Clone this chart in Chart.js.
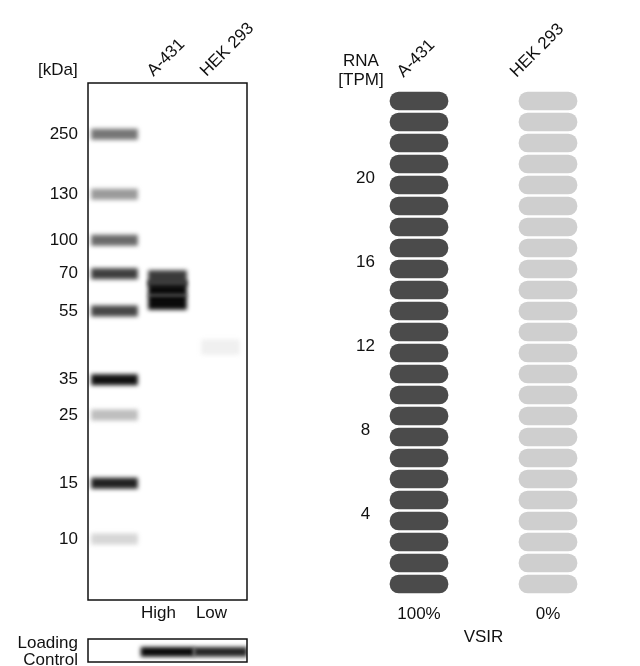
<!DOCTYPE html>
<html>
<head>
<meta charset="utf-8">
<script src="https://cdn.jsdelivr.net/npm/chart.js@4.4.1/dist/chart.umd.min.js"></script>
<style>
  html, body { margin: 0; padding: 0; background: #fff; }
  #wrap { position: relative; width: 640px; height: 666px; overflow: hidden; font-family: "Liberation Sans", Arial, sans-serif; }
  canvas { position: absolute; left: 0; top: 0; }
  .lbl { position: absolute; font-size: 17px; color: #111; white-space: nowrap; line-height: 1; }
</style>
</head>
<body>
<div id="wrap">
  <canvas id="blot" width="640" height="666"></canvas>
  <canvas id="loading" width="640" height="666"></canvas>
  <canvas id="rna" width="640" height="666"></canvas>
  <div class="lbl" style="left:38px; top:61px;">[kDa]</div>
  <div class="lbl" style="left:331px; top:51px; width:60px; text-align:center; line-height:19px;">RNA<br>[TPM]</div>
</div>
<script>
// Western blot lanes
const lanes = ["Ladder", "A-431", "HEK 293"];
const laneLevels = ["", "High", "Low"];

// Marker ladder (kDa) and relative migration from the top of the gel
const markerKda = [250, 130, 100, 70, 55, 35, 25, 15, 10];
const markerRf = [0.099, 0.215, 0.304, 0.369, 0.441, 0.574, 0.642, 0.774, 0.882];
const markerSignal = [0.55, 0.4, 0.6, 0.78, 0.75, 0.97, 0.25, 0.9, 0.15];

// Sample bands
const sampleLane = ["A-431", "A-431", "A-431", "HEK 293"];
const sampleRf = [0.377, 0.397, 0.424, 0.511];
const sampleSignal = [0.8, 1, 1, 0.04];

// Loading control (signal per lane)
const loadingSignal = [0, 1, 0.88];
const loadingRf = 0.56;

// RNA expression
const rnaCells = ["A-431", "HEK 293"];
const rnaTpm = [24, 0];
const rnaShare = ["100%", "0%"];
const tpmTicks = [4, 8, 12, 16, 20];
const tpmMax = 24;
const geneName = "VSIR";

const family = "'Liberation Sans', Arial, sans-serif";
const ink = "#111";
const font = { family: family, size: 17 };

function gray(s) {
  const c = Math.round(250 - 240 * s);
  return "rgb(" + c + "," + c + "," + c + ")";
}

// draws the frame round the membrane
const frame = {
  id: "frame",
  afterDraw(chart) {
    const { ctx, chartArea: a } = chart;
    ctx.save();
    ctx.strokeStyle = "#111";
    ctx.lineWidth = 1.5;
    ctx.strokeRect(a.left, a.top, a.right - a.left, a.bottom - a.top);
    ctx.restore();
  }
};

// soft edges for the bands
const blurBands = {
  id: "blurBands",
  beforeDatasetsDraw(chart) {
    chart.ctx.save();
    chart.ctx.filter = "blur(2.2px)";
  },
  afterDatasetsDraw(chart) {
    chart.ctx.restore();
  }
};

function laneData(laneName, range) {
  return lanes.map((l) => (l === laneName ? range : null));
}

const blotDatasets = [];
markerRf.forEach((rf, i) => {
  blotDatasets.push({
    data: laneData("Ladder", [rf - 0.01, rf + 0.01]),
    backgroundColor: gray(markerSignal[i]),
    barThickness: 46,
    grouped: false
  });
});
sampleRf.forEach((rf, i) => {
  blotDatasets.push({
    data: laneData(sampleLane[i], [rf - 0.014, rf + 0.014]),
    backgroundColor: gray(sampleSignal[i]),
    barThickness: 38,
    grouped: false
  });
});

new Chart(document.getElementById("blot"), {
  type: "bar",
  data: { labels: lanes, datasets: blotDatasets },
  options: {
    responsive: false,
    animation: false,
    layout: { padding: { left: 0, right: 393, top: 0, bottom: 0 } },
    plugins: { legend: { display: false }, tooltip: { enabled: false } },
    scales: {
      x: {
        type: "category",
        position: "bottom",
        grid: { display: false, drawTicks: false },
        border: { display: false },
        ticks: { callback: (v, i) => laneLevels[i], padding: 3, labelOffset: -9, color: ink, font: font, maxRotation: 0, autoSkip: false },
        afterFit: (s) => { s.height = 66; }
      },
      xTop: {
        type: "category",
        position: "top",
        labels: lanes.map((l, i) => (i === 0 ? "" : l)),
        grid: { display: false, drawTicks: false },
        border: { display: false },
        ticks: { minRotation: 45, maxRotation: 45, labelOffset: -3, padding: 2, color: ink, font: font, autoSkip: false },
        afterFit: (s) => { s.height = 83; }
      },
      y: {
        type: "linear",
        reverse: true,
        min: 0,
        max: 1,
        afterBuildTicks: (s) => { s.ticks = markerRf.map((v) => ({ value: v })); },
        grid: { display: false, drawTicks: false },
        border: { display: false },
        ticks: { callback: (v) => markerKda[markerRf.indexOf(v)], padding: 10, color: ink, font: font, autoSkip: false },
        afterFit: (s) => { s.width = 88; }
      }
    }
  },
  plugins: [blurBands, frame]
});

// Loading control strip
new Chart(document.getElementById("loading"), {
  type: "bar",
  data: {
    labels: lanes,
    datasets: [{
      data: loadingSignal.map((s) => (s > 0 ? [loadingRf - 0.2, loadingRf + 0.2] : null)),
      backgroundColor: loadingSignal.map(gray),
      barThickness: 53,
      grouped: false
    }]
  },
  options: {
    responsive: false,
    animation: false,
    layout: { padding: { left: 0, right: 393, top: 639, bottom: 4 } },
    plugins: { legend: { display: false }, tooltip: { enabled: false } },
    scales: {
      x: { display: false },
      y: {
        type: "linear",
        reverse: true,
        min: 0,
        max: 1,
        afterBuildTicks: (s) => { s.ticks = [{ value: 0.5 }]; },
        grid: { display: false, drawTicks: false },
        border: { display: false },
        ticks: { callback: () => ["Loading", "Control"], padding: 10, labelOffset: 1, color: ink, font: { family: family, size: 17, lineHeight: 0.98 } },
        afterFit: (s) => { s.width = 88; s.paddingTop = 0; s.paddingBottom = 0; }
      }
    }
  },
  plugins: [blurBands, frame]
});

// RNA pill chart
const dark = "#4b4b4b";
const light = "#cfcfcf";
const pillDatasets = [];
for (let level = 1; level <= tpmMax; level++) {
  pillDatasets.push({
    data: rnaCells.map(() => [level - 1, level]),
    backgroundColor: rnaTpm.map((v) => (v >= level ? dark : light)),
    borderColor: "#fff",
    borderWidth: 1.5,
    borderRadius: 10.5,
    borderSkipped: false,
    barThickness: 61,
    grouped: false
  });
}

// rotated cell line names above the pill columns
const columnHeaders = {
  id: "columnHeaders",
  afterDraw(chart) {
    const { ctx } = chart;
    const x = chart.scales.x;
    ctx.save();
    ctx.font = "17px " + family;
    ctx.fillStyle = ink;
    ctx.textAlign = "left";
    ctx.textBaseline = "alphabetic";
    rnaCells.forEach((name, i) => {
      const w = ctx.measureText(name).width;
      ctx.save();
      ctx.translate(x.getPixelForValue(i) + 16.5 - w * Math.SQRT1_2, 78);
      ctx.rotate(-Math.PI / 4);
      ctx.fillText(name, 0, 0);
      ctx.restore();
    });
    ctx.restore();
  }
};

new Chart(document.getElementById("rna"), {
  type: "bar",
  data: { labels: rnaCells, datasets: pillDatasets },
  options: {
    responsive: false,
    animation: false,
    layout: { padding: { left: 354.5, right: 27.5, top: 90.5, bottom: 0 } },
    plugins: { legend: { display: false }, tooltip: { enabled: false } },
    scales: {
      x: {
        type: "category",
        offset: true,
        grid: { display: false, drawTicks: false },
        border: { display: false },
        ticks: { callback: (v, i) => rnaShare[i], padding: 10, color: ink, font: font },
        title: { display: true, text: geneName, color: ink, font: font, padding: { top: 0, bottom: 18 } },
        afterFit: (s) => { s.height = 71.5; }
      },
      y: {
        min: 0,
        max: tpmMax,
        afterBuildTicks: (s) => { s.ticks = tpmTicks.map((v) => ({ value: v })); },
        grid: { display: false, drawTicks: false },
        border: { display: false },
        ticks: { mirror: true, crossAlign: "center", padding: 1.5, labelOffset: 4, color: ink, font: font },
        afterFit: (s) => { s.width = 0; }
      }
    }
  },
  plugins: [columnHeaders]
});
</script>
</body>
</html>
